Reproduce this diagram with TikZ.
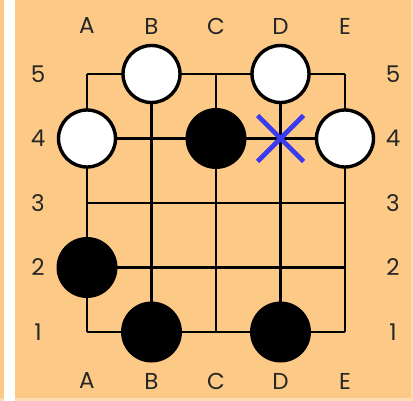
\documentclass[tikz,border=0pt]{standalone}
\usepackage{fontspec}
\setmainfont{Poppins}
\usetikzlibrary{calc}
\definecolor{board}{RGB}{252,202,134}
\definecolor{boardedge}{RGB}{253,222,178}
\definecolor{xblue}{RGB}{58,58,240}
\tikzset{
  white stone/.style={circle,draw=black,line width=3.4pt,fill=white,minimum size=57pt,inner sep=0pt},
  black stone/.style={circle,fill=black,minimum size=61pt,inner sep=0pt},
  coordlabel/.style={font=\fontsize{23}{27}\selectfont,text=black!85}
}
\begin{document}
\begin{tikzpicture}[x=1pt,y=-1pt]
  \useasboundingbox (0,0) rectangle (413,401);
  \fill[boardedge] (0,0) rectangle (413,401);
  \fill[board] (0,0) rectangle (411,398);
  \fill[white] (3.5,0) rectangle (15,401);
  % grid
  \foreach \i in {0,...,4} {
    \draw[line width=2.4pt] (87+64.5*\i,74) -- (87+64.5*\i,332);
    \draw[line width=2.4pt] (87,74+64.5*\i) -- (345,74+64.5*\i);
  }
  % coordinates
  \foreach \c [count=\i from 0] in {A,B,C,D,E} {
    \node[coordlabel] (top\c) at (87+64.5*\i,26) {\c};
    \node[coordlabel] (bot\c) at (87+64.5*\i,381) {\c};
  }
  \foreach \r [count=\i from 0] in {5,4,3,2,1} {
    \node[coordlabel] (left\r) at (38,74+64.5*\i) {\r};
    \node[coordlabel] (right\r) at (393,74+64.5*\i) {\r};
  }
  % stones
  \node[white stone] (B5) at (151.5,74) {};
  \node[white stone] (D5) at (280.5,74) {};
  \node[white stone] (A4) at (87,138.5) {};
  \node[white stone] (E4) at (345,138.5) {};
  \node[black stone] (C4) at (216,138.5) {};
  \node[black stone] (A2) at (87,267.5) {};
  \node[black stone] (B1) at (151.5,332) {};
  \node[black stone] (D1) at (280.5,332) {};
  % marked point
  \coordinate (D4) at (280.5,138.5);
  \draw[xblue,line width=4.6pt] ($(D4)+(-23,-23)$) -- ($(D4)+(23,23)$);
  \draw[xblue,line width=4.6pt] ($(D4)+(-23,23)$) -- ($(D4)+(23,-23)$);
\end{tikzpicture}
\end{document}
